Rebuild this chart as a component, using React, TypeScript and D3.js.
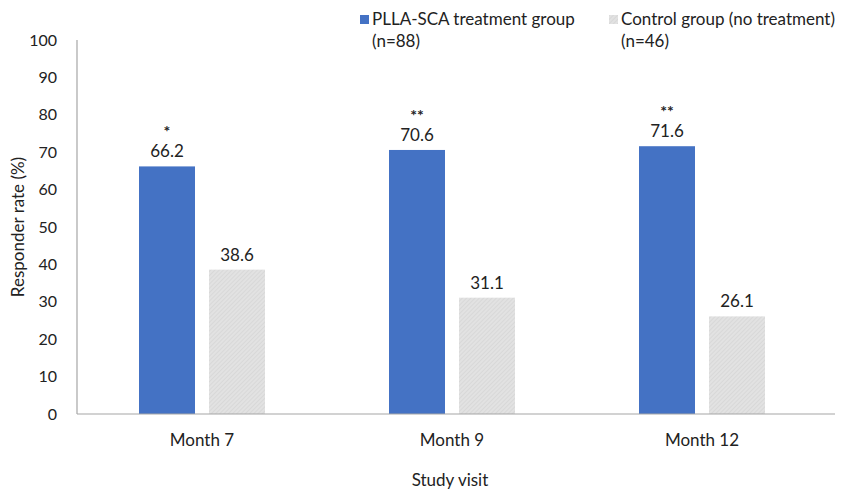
import React from "react";
import * as d3 from "d3";

const visits = ["Month 7", "Month 9", "Month 12"];
const series = ["PLLA-SCA treatment group", "Control group (no treatment)"];
const seriesN = ["(n=88)", "(n=46)"];
const treatment = [66.2, 70.6, 71.6];
const control = [38.6, 31.1, 26.1];
const significance = ["*", "**", "**"];
const yTicks = [0, 10, 20, 30, 40, 50, 60, 70, 80, 90, 100];

const font = "Lato, 'Open Sans', sans-serif";
const blue = "#4472c4";

const App = () => {
  const width = 844;
  const height = 491;
  const left = 77;
  const right = 827;
  const top = 40;
  const bottom = 414;

  const x = d3.scaleBand().domain(visits).range([left, right]).paddingInner(0).paddingOuter(0);
  const inner = d3.scaleBand().domain(series).range([x.bandwidth() / 2 - 63, x.bandwidth() / 2 + 63]).paddingInner(0.2);
  const y = d3.scaleLinear().domain([0, 100]).range([bottom, top]);

  const values = [treatment, control];

  return (
    <svg width={width} height={height} style={{ position: "absolute", left: 0, top: 0, background: "#fff" }}>
      <defs>
        <pattern id="hatch" width="3" height="3" patternUnits="userSpaceOnUse" patternTransform="rotate(45)">
          <rect width="3" height="3" fill="#e2e2e2" />
          <line x1="0" y1="0" x2="0" y2="3" stroke="#cfcfcf" strokeWidth="1" />
        </pattern>
      </defs>

      {/* y axis */}
      <line x1={left} x2={left} y1={y(100)} y2={y(0)} stroke="#a6a6a6" strokeWidth={1.2} />
      {yTicks.map((t) => (
        <text key={t} x={57} y={y(t)} dy="0.35em" textAnchor="end" fontFamily={font} fontSize={16} fill="#222">
          {t}
        </text>
      ))}
      <text transform={`translate(24,${(top + bottom) / 2}) rotate(-90)`} textAnchor="middle" fontFamily={font} fontSize={17} fill="#222">
        Responder rate (%)
      </text>

      {/* bars */}
      {visits.map((v, i) => (
        <g key={v} transform={`translate(${x(v)},0)`}>
          {series.map((s, j) => {
            const val = values[j][i];
            const bx = inner(s)!;
            const bw = inner.bandwidth();
            return (
              <g key={s}>
                <rect x={bx} y={y(val)} width={bw} height={y(0) - y(val)} fill={j === 0 ? blue : "url(#hatch)"} />
                <text x={bx + bw / 2} y={y(val) - 9} textAnchor="middle" fontFamily={font} fontSize={17} fill="#222">
                  {val.toFixed(1)}
                </text>
                {j === 0 && (
                  <text x={bx + bw / 2} y={y(val) - 29} textAnchor="middle" fontFamily={font} fontSize={16} fontWeight="bold" fill="#222">
                    {significance[i]}
                  </text>
                )}
              </g>
            );
          })}
          <text x={x.bandwidth() / 2} y={446} textAnchor="middle" fontFamily={font} fontSize={17} fill="#222">
            {v}
          </text>
        </g>
      ))}

      {/* x axis */}
      <line x1={left} x2={835} y1={y(0)} y2={y(0)} stroke="#a6a6a6" strokeWidth={1.2} />
      <text x={450} y={486} textAnchor="middle" fontFamily={font} fontSize={17} fill="#222">
        Study visit
      </text>

      {/* legend */}
      {series.map((s, j) => {
        const lx = j === 0 ? 360 : 609;
        return (
          <g key={s}>
            <rect x={lx} y={15} width={9} height={9} fill={j === 0 ? blue : "url(#hatch)"} />
            <text x={lx + 12} y={25} fontFamily={font} fontSize={17} fill="#222">
              {s}
            </text>
            <text x={lx + 12} y={47} fontFamily={font} fontSize={17} fill="#222">
              {seriesN[j]}
            </text>
          </g>
        );
      })}
    </svg>
  );
};

export default App;
